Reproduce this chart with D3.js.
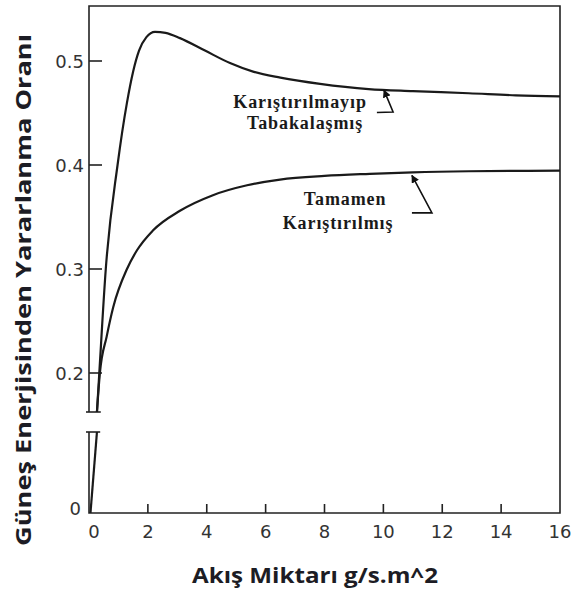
<!DOCTYPE html>
<html>
<head>
<meta charset="utf-8">
<script src="https://cdn.jsdelivr.net/npm/d3@7"></script>
<style>
	body { margin: 0; background: #fff; }
	svg { display: block; }
	.tick-label { font-family: "DejaVu Sans", sans-serif; font-size: 18px; fill: #333; }
	.note { font-family: "Liberation Serif", serif; font-weight: bold; font-size: 18px; fill: #1a1a1a; letter-spacing: 0.9px; }
	.title { font-family: "Open Sans", sans-serif; font-weight: bold; fill: #1c1c24; }
</style>
</head>
<body>
<svg width="574" height="598"></svg>
<script>
// flow rate (g/s.m^2) and utilisation ratio
const stratX = [0.27, 0.35, 0.57, 0.97, 1.29, 1.5, 1.7, 1.95, 2.24, 2.6, 3.09, 3.94, 4.79, 5.6, 6.5, 7.85, 9.5, 11, 12.9, 14.5, 16];
const stratY = [0.1625, 0.2, 0.3, 0.4, 0.46, 0.49, 0.51, 0.523, 0.528, 0.527, 0.522, 0.51, 0.498, 0.4895, 0.484, 0.478, 0.473, 0.471, 0.469, 0.467, 0.466];
const mixedX = [0.27, 0.37, 0.6, 0.82, 1.29, 1.63, 2.17, 3.09, 4.21, 5.37, 6.49, 8, 9.54, 11, 12.9, 16];
const mixedY = [0.1625, 0.2, 0.235, 0.263, 0.3, 0.318, 0.337, 0.356, 0.371, 0.3805, 0.386, 0.3895, 0.3915, 0.393, 0.394, 0.3945];
// piece below the axis break, shared by both curves
const startX = [0.05, 0.27];
const startY = [0, 0.1625];

const xTicks = [0, 2, 4, 6, 8, 10, 12, 14, 16];
const yTicks = [0.2, 0.3, 0.4, 0.5];
const yTickLabels = ["0.2", "0.3", "0.4", "0.5"];
const breakValue = 0.1625;

const svg = d3.select("svg");

const x = d3.scaleLinear().domain([0, 16]).range([89, 560]);
const yHigh = d3.scaleLinear().domain([breakValue, 0.5]).range([412, 61]);
const yLow = d3.scaleLinear().domain([0, breakValue]).range([513, 432]);
const yTop = yHigh.invert(6);

const frame = svg.append("g")
	.attr("fill", "none")
	.attr("stroke", "#222")
	.attr("stroke-width", 1.6);

// axis lines and frame
frame.append("path").attr("d", d3.line()([
	[x(0), yHigh(breakValue)], [x(0), yHigh(yTop)], [x(16), yHigh(yTop)], [x(16), yLow(0)], [x(0), yLow(0)], [x(0), yLow(breakValue)]
]));
// break marks
frame.append("line")
	.attr("x1", x(0) - 3).attr("x2", x(0.4))
	.attr("y1", yHigh(breakValue)).attr("y2", yHigh(breakValue));
frame.append("line")
	.attr("x1", x(0) - 3).attr("x2", x(0.38))
	.attr("y1", yLow(breakValue)).attr("y2", yLow(breakValue));

// ticks (inward)
frame.selectAll(".yt").data(yTicks).enter().append("line")
	.attr("x1", x(0)).attr("x2", x(0) + 13)
	.attr("y1", d => yHigh(d)).attr("y2", d => yHigh(d));
frame.selectAll(".xt").data(xTicks.slice(1, -1)).enter().append("line")
	.attr("x1", d => x(d)).attr("x2", d => x(d))
	.attr("y1", yLow(0)).attr("y2", yLow(0) - 9);

svg.selectAll(".yl").data(yTicks).enter().append("text")
	.attr("class", "tick-label")
	.attr("x", x(0) - 5)
	.attr("y", d => yHigh(d) + 7)
	.attr("text-anchor", "end")
	.text((d, i) => yTickLabels[i]);
svg.append("text")
	.attr("class", "tick-label")
	.attr("x", x(0) - 8)
	.attr("y", yLow(0) + 2)
	.attr("text-anchor", "end")
	.text("0");

svg.selectAll(".xl").data(xTicks).enter().append("text")
	.attr("class", "tick-label")
	.attr("x", d => x(d) + (d === 0 ? 5 : 0))
	.attr("y", yLow(0) + 25)
	.attr("text-anchor", "middle")
	.text(d => d);

// curves
const lineHigh = d3.line().curve(d3.curveMonotoneX)
	.x(d => x(d[0])).y(d => yHigh(d[1]));
const lineLow = d3.line().x(d => x(d[0])).y(d => yLow(d[1]));

const curves = svg.append("g")
	.attr("fill", "none")
	.attr("stroke", "#1a1a1a")
	.attr("stroke-width", 2.2);

curves.append("path").attr("d", lineHigh(d3.zip(stratX, stratY)));
curves.append("path").attr("d", lineHigh(d3.zip(mixedX, mixedY)));
curves.append("path").attr("d", lineLow(d3.zip(startX, startY)));

// annotations with arrows
const notes = [
	{ lines: ["Karıştırılmayıp", "Tabakalaşmış"], cx: [7.17, 7.34], cy: [0.455, 0.435],
		arrow: [[9.78, 0.4505], [10.33, 0.451], [10.02, 0.472]] },
	{ lines: ["Tamamen", "Karıştırılmış"], cx: [8.7, 8.46], cy: [0.3615, 0.338],
		arrow: [[10.97, 0.354], [11.65, 0.354], [10.97, 0.39]] }
];

svg.append("defs").append("marker")
	.attr("id", "head")
	.attr("viewBox", "0 0 10 10")
	.attr("refX", 9).attr("refY", 5)
	.attr("markerWidth", 5).attr("markerHeight", 5)
	.attr("orient", "auto")
	.append("path")
	.attr("d", "M0,0L10,5L0,10z")
	.attr("fill", "#111");

notes.forEach(n => {
	n.lines.forEach((t, i) => {
		svg.append("text")
			.attr("class", "note")
			.attr("x", x(n.cx[i]))
			.attr("y", yHigh(n.cy[i]))
			.attr("text-anchor", "middle")
			.text(t);
	});
	svg.append("path")
		.attr("d", d3.line().x(d => x(d[0])).y(d => yHigh(d[1]))(n.arrow))
		.attr("fill", "none")
		.attr("stroke", "#111")
		.attr("stroke-width", 1.6)
		.attr("marker-end", "url(#head)");
});

// axis titles
svg.append("text")
	.attr("class", "title")
	.attr("transform", "translate(31," + 290 + ") rotate(-90)")
	.attr("text-anchor", "middle")
	.attr("textLength", 512)
	.attr("lengthAdjust", "spacingAndGlyphs")
	.style("font-size", "22px")
	.text("Güneş Enerjisinden Yararlanma Oranı");

svg.append("text")
	.attr("class", "title")
	.attr("x", 315)
	.attr("y", 583)
	.attr("text-anchor", "middle")
	.attr("textLength", 246)
	.attr("lengthAdjust", "spacingAndGlyphs")
	.style("font-size", "21px")
	.text("Akış Miktarı g/s.m^2");
</script>
</body>
</html>
